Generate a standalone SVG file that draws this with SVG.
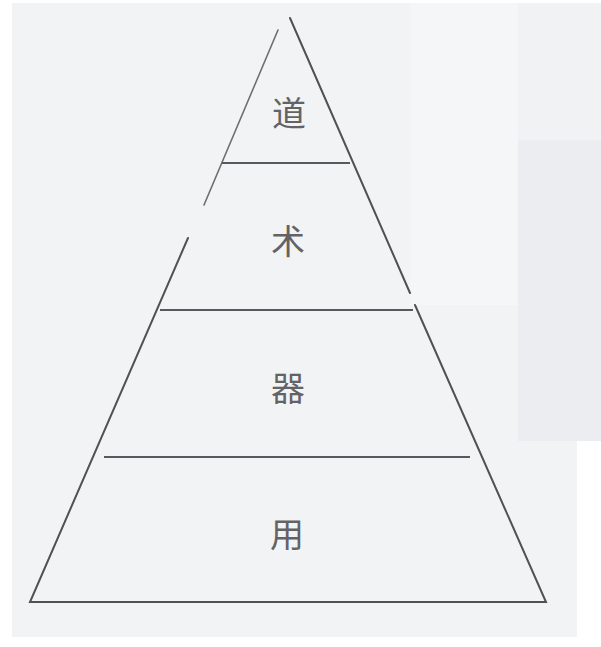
<svg xmlns="http://www.w3.org/2000/svg" width="601" height="647" viewBox="0 0 601 647">
  <style>
    .edge { stroke: #4d5253; stroke-width: 2; fill: none; stroke-linecap: round; }
    .faint { stroke: #6a6f70; stroke-width: 1.6; fill: none; stroke-linecap: round; }
    .div { stroke: #555a5c; stroke-width: 2.2; fill: none; }
    .lbl { font-family: "Noto Sans CJK SC", "Noto Sans CJK JP", sans-serif; font-size: 34px; font-weight: 400; fill: #636366; text-anchor: middle; dominant-baseline: central; }
  </style>
  <g id="background">
    <rect x="0" y="0" width="601" height="647" fill="#ffffff"/>
    <rect x="12" y="3" width="565" height="634" fill="#f2f3f5"/>
    <rect x="410" y="3" width="108" height="302" fill="#f5f6f8"/>
    <rect x="518" y="3" width="83" height="137" fill="#f1f2f4"/>
    <rect x="518" y="140" width="83" height="301" fill="#ecedf0"/>
  </g>
  <g id="connectors">
    <path class="faint" d="M278 30 L204 205"/>
    <path class="edge" d="M188 238 L30 602 L546 602 L415 305"/>
    <path class="edge" d="M410 293 L290 18"/>
    <line class="div" x1="222" y1="163" x2="350" y2="163"/>
    <line class="div" x1="160" y1="310" x2="413" y2="310"/>
    <line class="div" x1="104" y1="457" x2="470" y2="457"/>
  </g>
  <g id="layer-dao"><text class="lbl" x="289" y="111">道</text></g>
  <g id="layer-shu"><text class="lbl" x="288" y="239">术</text></g>
  <g id="layer-qi"><text class="lbl" x="288" y="386">器</text></g>
  <g id="layer-yong"><text class="lbl" x="287" y="532">用</text></g>
</svg>
